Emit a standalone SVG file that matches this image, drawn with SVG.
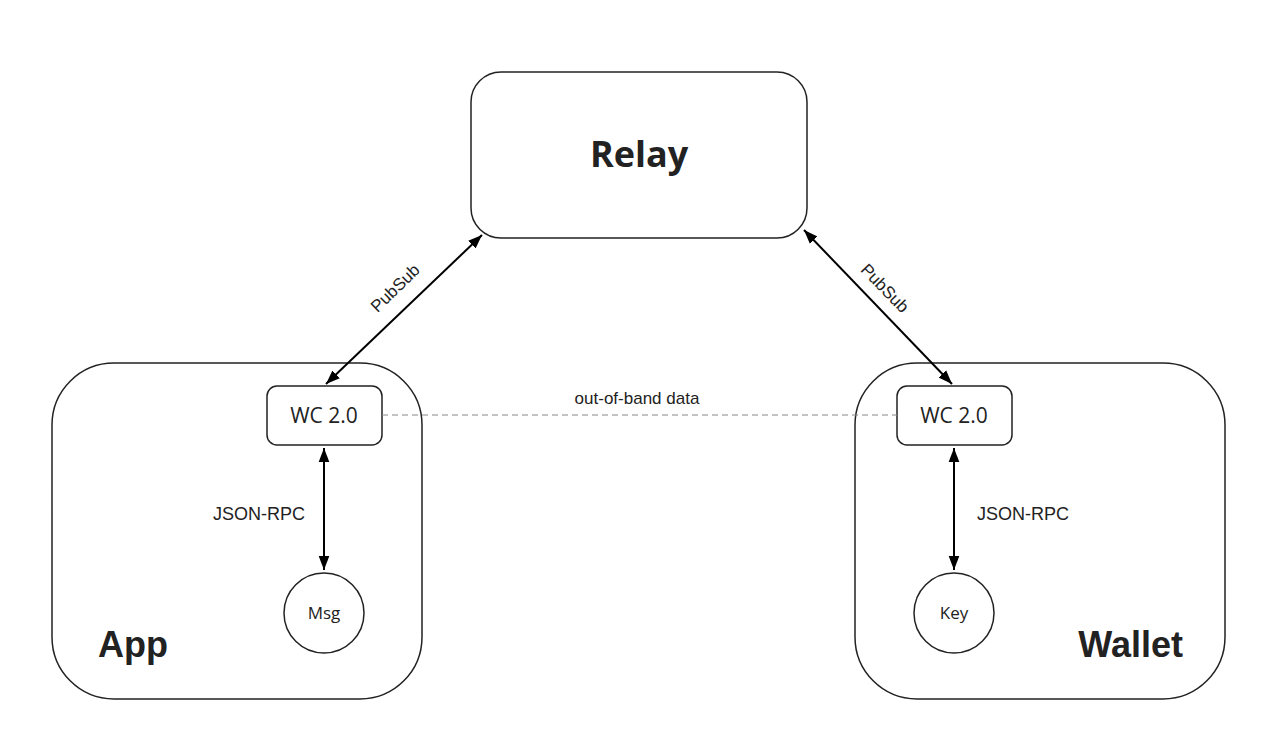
<svg xmlns="http://www.w3.org/2000/svg" width="1261" height="745" viewBox="0 0 1261 745">
<defs>
<marker id="ah" viewBox="0 0 10 10" refX="10" refY="5" markerWidth="7" markerHeight="7" orient="auto-start-reverse" markerUnits="strokeWidth">
<path d="M0,1.2 L10,5 L0,8.8 Z" fill="#000"/>
</marker>
<style>
.box{fill:#fff;stroke:#222;stroke-width:1.5}
.os{font-family:"Open Sans","Noto Sans",sans-serif;fill:#222;text-anchor:middle}
.ar{font-family:"Liberation Sans",Arial,sans-serif;fill:#222}
.conn{stroke:#000;stroke-width:2;fill:none;marker-start:url(#ah);marker-end:url(#ah)}
</style>
</defs>
<rect width="1261" height="745" fill="#fff"/>
<g id="app">
<rect class="box" x="52" y="363" width="370" height="336" rx="62"/>
<text class="ar" x="98" y="657" font-size="36" font-weight="bold">App</text>
</g>
<g id="wallet">
<rect class="box" x="855" y="363" width="370" height="336" rx="62"/>
<text class="ar" x="1183" y="657" font-size="36" font-weight="bold" text-anchor="end">Wallet</text>
</g>
<g id="relay">
<rect class="box" x="471" y="72" width="336" height="166" rx="30"/>
<text class="os" x="639" y="167" font-size="36" font-weight="bold">Relay</text>
</g>
<g id="wc-app">
<rect class="box" x="267" y="386" width="115" height="59" rx="10"/>
<text class="os" x="324" y="423" font-size="21">WC 2.0</text>
</g>
<g id="wc-wallet">
<rect class="box" x="897" y="386" width="115" height="59" rx="10"/>
<text class="os" x="954" y="423" font-size="21">WC 2.0</text>
</g>
<g id="msg">
<circle class="box" cx="324" cy="613" r="40"/>
<text class="os" x="324" y="619" font-size="17">Msg</text>
</g>
<g id="key">
<circle class="box" cx="954" cy="613" r="40"/>
<text class="os" x="954" y="619" font-size="17">Key</text>
</g>
<g id="connectors">
<line class="conn" x1="482" y1="235" x2="326" y2="384"/>
<line class="conn" x1="804" y1="230" x2="952" y2="384"/>
<line class="conn" x1="324" y1="448" x2="324" y2="570"/>
<line class="conn" x1="954" y1="448" x2="954" y2="570"/>
<line x1="382" y1="415" x2="897" y2="415" stroke="#888" stroke-width="1.2" stroke-dasharray="6,4"/>
<text class="ar" x="395" y="294" font-size="17" text-anchor="middle" transform="rotate(-44 395 288)">PubSub</text>
<text class="ar" x="885" y="294" font-size="17" text-anchor="middle" transform="rotate(46 885 288)">PubSub</text>
<text class="ar" x="213" y="520" font-size="18">JSON-RPC</text>
<text class="ar" x="977" y="520" font-size="18">JSON-RPC</text>
<text class="ar" x="637" y="404" font-size="17" text-anchor="middle">out-of-band data</text>
</g>
</svg>
